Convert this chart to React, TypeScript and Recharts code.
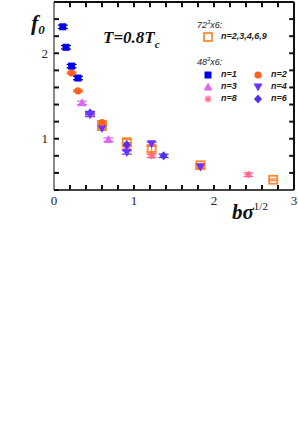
import React from "react";
import {
  ScatterChart,
  Scatter,
  XAxis,
  YAxis,
  ErrorBar,
  ReferenceLine,
} from "recharts";

// 72^3 x 6 lattice, n=2,3,4,6,9
const lat72 = [
  { x: 0.6, y: 1.15, e: 0.03 },
  { x: 0.91, y: 0.96, e: 0.03 },
  { x: 1.22, y: 0.88, e: 0.03 },
  { x: 1.83, y: 0.69, e: 0.02 },
  { x: 2.74, y: 0.52, e: 0.01 },
];

// 48^3 x 6 lattice
const n1 = [
  { x: 0.11, y: 2.31, e: 0.02 },
  { x: 0.15, y: 2.07, e: 0.02 },
  { x: 0.22, y: 1.85, e: 0.02 },
  { x: 0.3, y: 1.71, e: 0.02 },
];
const n2 = [
  { x: 0.22, y: 1.77, e: 0.01 },
  { x: 0.3, y: 1.56, e: 0.01 },
  { x: 0.6, y: 1.19, e: 0.02 },
];
const n3 = [
  { x: 0.35, y: 1.42, e: 0.02 },
  { x: 0.68, y: 0.99, e: 0.02 },
];
const n4 = [
  { x: 0.45, y: 1.28, e: 0.02 },
  { x: 0.6, y: 1.12, e: 0.02 },
  { x: 0.91, y: 0.84, e: 0.02 },
  { x: 1.22, y: 0.94, e: 0.02 },
  { x: 1.83, y: 0.67, e: 0.02 },
];
const n6 = [
  { x: 0.45, y: 1.3, e: 0.02 },
  { x: 0.91, y: 0.93, e: 0.02 },
  { x: 1.37, y: 0.8, e: 0.02 },
];
const n8 = [
  { x: 0.45, y: 1.28, e: 0.02 },
  { x: 0.91, y: 0.9, e: 0.02 },
  { x: 1.22, y: 0.8, e: 0.02 },
  { x: 1.83, y: 0.68, e: 0.02 },
  { x: 2.43, y: 0.58, e: 0.02 },
];

const xTicks = [0, 0.2, 0.4, 0.6, 0.8, 1, 1.2, 1.4, 1.6, 1.8, 2, 2.2, 2.4, 2.6, 2.8, 3];
const yTicks = [0.4, 0.6, 0.8, 1, 1.2, 1.4, 1.6, 1.8, 2, 2.2, 2.4, 2.6];
const xLabels = ["0", "1", "2", "3"];
const yLabels = ["1", "2"];
const X_MAX = 3;
const Y_MIN = 0.4;
const Y_MAX = 2.6;

const C = {
  n1: "#0000f0",
  n2: "#ff6020",
  n3: "#dd66f0",
  n4: "#6633ff",
  n6: "#5030ee",
  n8: "#ff6688",
  lat72: "#ff8833",
};

const serif = "'Times New Roman', 'Liberation Serif', serif";
const sans = "'Liberation Sans', Arial, sans-serif";

const intLabel = (labels: string[]) => (v: number) => {
  const s = String(Math.round(v));
  return Math.abs(v - Math.round(v)) < 1e-6 && labels.includes(s) ? s : "";
};

// left axis: inward tick drawn with the label
const LeftTick = (p: any) => {
  const lab = intLabel(yLabels)(p.payload.value);
  return (
    <g>
      <line x1={p.x} x2={p.x + 5} y1={p.y} y2={p.y} stroke="#111" strokeWidth={2} />
      {lab && (
        <text x={p.x - 6} y={p.y + 4.5} textAnchor="end" fontFamily={serif} fontSize={13} fill="#222">
          {lab}
        </text>
      )}
    </g>
  );
};

// marker shapes
const square = (c: string) => (p: any) => (
  <rect x={p.cx - 3.5} y={p.cy - 3.5} width={7} height={7} fill={c} />
);
const openSquare = (c: string) => (p: any) => (
  <rect x={p.cx - 4} y={p.cy - 4} width={8} height={8} fill="none" stroke={c} strokeWidth={1.8} />
);
const circle = (c: string) => (p: any) => <circle cx={p.cx} cy={p.cy} r={3.6} fill={c} />;
const triUp = (c: string) => (p: any) => (
  <polygon points={`${p.cx},${p.cy - 4.5} ${p.cx + 4.5},${p.cy + 3.5} ${p.cx - 4.5},${p.cy + 3.5}`} fill={c} />
);
const triDown = (c: string) => (p: any) => (
  <polygon points={`${p.cx},${p.cy + 4.5} ${p.cx + 4.5},${p.cy - 3.5} ${p.cx - 4.5},${p.cy - 3.5}`} fill={c} />
);
const diamond = (c: string) => (p: any) => (
  <polygon points={`${p.cx},${p.cy - 4.5} ${p.cx + 4},${p.cy} ${p.cx},${p.cy + 4.5} ${p.cx - 4},${p.cy}`} fill={c} />
);
const asterisk = (c: string) => (p: any) => (
  <g stroke={c} strokeWidth={1.3}>
    <line x1={p.cx - 3.5} y1={p.cy} x2={p.cx + 3.5} y2={p.cy} />
    <line x1={p.cx} y1={p.cy - 3.5} x2={p.cx} y2={p.cy + 3.5} />
    <line x1={p.cx - 2.6} y1={p.cy - 2.6} x2={p.cx + 2.6} y2={p.cy + 2.6} />
    <line x1={p.cx - 2.6} y1={p.cy + 2.6} x2={p.cx + 2.6} y2={p.cy - 2.6} />
  </g>
);

const legendIcon = (kind: string, c: string) => {
  const s = { cx: 6, cy: 6 };
  const shapes: Record<string, any> = { square, openSquare, circle, triUp, triDown, diamond, asterisk };
  return (
    <svg width={12} height={12} style={{ position: "absolute", left: -6, top: -6 }}>
      {shapes[kind](c)(s)}
    </svg>
  );
};

const legendItem = (x: number, y: number, kind: string, c: string, label: string) => (
  <div style={{ position: "absolute", left: x, top: y }}>
    {legendIcon(kind, c)}
    <span
      style={{
        position: "absolute",
        left: 13,
        top: -6,
        fontFamily: sans,
        fontStyle: "italic",
        fontWeight: "bold",
        fontSize: 9,
        whiteSpace: "nowrap",
        color: "#222",
      }}
    >
      {label}
    </span>
  </div>
);

const groupHead = (top: number, text: string) => (
  <div
    style={{
      position: "absolute",
      left: 197,
      top,
      fontFamily: sans,
      fontStyle: "italic",
      fontSize: 9,
      color: "#222",
      whiteSpace: "nowrap",
    }}
  >
    {text}
    <sup style={{ fontSize: 6 }}>3</sup>x6:
  </div>
);

const ebar = (c: string) => (
  <ErrorBar dataKey="e" direction="y" width={5} stroke={c} strokeWidth={1.2} />
);

const overlay = (left: number, top: number, size: number, children: any) => (
  <div
    style={{
      position: "absolute",
      left,
      top,
      fontFamily: serif,
      fontStyle: "italic",
      fontWeight: "bold",
      fontSize: size,
      lineHeight: `${size}px`,
      color: "#111",
      whiteSpace: "nowrap",
    }}
  >
    {children}
  </div>
);

export default function App() {
  return (
    <div style={{ position: "absolute", left: 0, top: 0, width: 298, height: 448 }}>
      <ScatterChart width={298} height={448} margin={{ top: 2, right: 4, bottom: 228, left: 0 }}>
        <XAxis
          type="number"
          dataKey="x"
          domain={[0, X_MAX]}
          ticks={xTicks}
          interval={0}
          tickSize={-5}
          tickMargin={11}
          tickFormatter={intLabel(xLabels)}
          tickLine={{ stroke: "#111", strokeWidth: 2 }}
          axisLine={{ stroke: "#444", strokeWidth: 2 }}
          tick={{ fill: "#222", fontSize: 13, fontFamily: serif }}
        />
        <YAxis
          type="number"
          dataKey="y"
          domain={[Y_MIN, Y_MAX]}
          ticks={yTicks}
          interval={0}
          width={54}
          tickSize={0}
          tickMargin={0}
          tick={LeftTick}
          tickLine={false}
          axisLine={{ stroke: "#888", strokeWidth: 2 }}
        />

        {/* top and right frame with mirrored inward ticks */}
        <ReferenceLine y={Y_MAX} stroke="#111" strokeWidth={2} />
        <ReferenceLine x={X_MAX} stroke="#111" strokeWidth={2} />
        {xTicks.map((t) => (
          <ReferenceLine
            key={`tx${t}`}
            segment={[{ x: t, y: Y_MAX }, { x: t, y: Y_MAX - 0.06 }]}
            stroke="#111"
            strokeWidth={2}
          />
        ))}
        {yTicks.map((t) => (
          <ReferenceLine
            key={`ty${t}`}
            segment={[{ x: X_MAX, y: t }, { x: X_MAX - 0.06, y: t }]}
            stroke="#111"
            strokeWidth={2}
          />
        ))}

        <Scatter data={lat72} shape={openSquare(C.lat72)} isAnimationActive={false}>
          {ebar(C.lat72)}
        </Scatter>
        <Scatter data={n8} shape={asterisk(C.n8)} isAnimationActive={false}>
          {ebar(C.n8)}
        </Scatter>
        <Scatter data={n6} shape={diamond(C.n6)} isAnimationActive={false}>
          {ebar(C.n6)}
        </Scatter>
        <Scatter data={n4} shape={triDown(C.n4)} isAnimationActive={false}>
          {ebar(C.n4)}
        </Scatter>
        <Scatter data={n3} shape={triUp(C.n3)} isAnimationActive={false}>
          {ebar(C.n3)}
        </Scatter>
        <Scatter data={n2} shape={circle(C.n2)} isAnimationActive={false}>
          {ebar(C.n2)}
        </Scatter>
        <Scatter data={n1} shape={square(C.n1)} isAnimationActive={false}>
          {ebar("#000060")}
        </Scatter>
      </ScatterChart>

      {overlay(31, 12, 22, <>f<sub style={{ fontSize: 13, verticalAlign: "-4px" }}>0</sub></>)}
      {overlay(103, 29, 17, <>T=0.8T<sub style={{ fontSize: 11, verticalAlign: "-5px" }}>c</sub></>)}
      {overlay(
        232,
        196,
        21,
        <>
          bσ
          <sup style={{ fontSize: 11, fontWeight: "normal", fontStyle: "normal", verticalAlign: "9px" }}>1/2</sup>
        </>
      )}

      {/* legend */}
      {groupHead(19, "72")}
      {legendItem(208, 37, "openSquare", C.lat72, "n=2,3,4,6,9")}
      {groupHead(56, "48")}
      {legendItem(208, 75, "square", C.n1, "n=1")}
      {legendItem(258, 75, "circle", C.n2, "n=2")}
      {legendItem(208, 87, "triUp", C.n3, "n=3")}
      {legendItem(258, 87, "triDown", C.n4, "n=4")}
      {legendItem(208, 99, "asterisk", C.n8, "n=8")}
      {legendItem(258, 99, "diamond", C.n6, "n=6")}
    </div>
  );
}
